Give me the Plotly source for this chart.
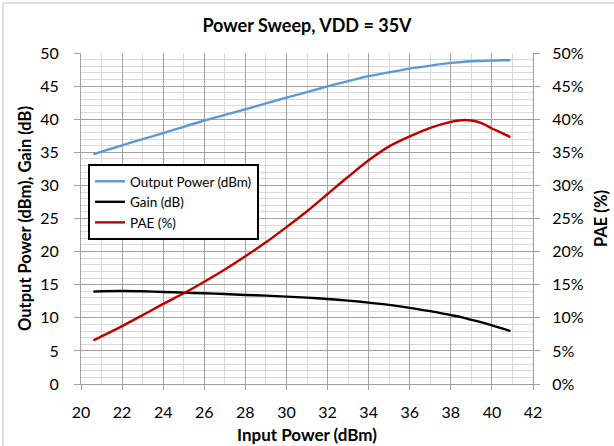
import plotly.graph_objects as go

# Data
input_power = [20.6, 21, 22, 23, 24, 25, 26, 27, 28, 29, 30, 31, 32, 33, 34, 35, 36, 37, 38, 38.5, 39, 39.5, 40, 40.5, 40.9]
output_power = [34.7, 35.1, 36.05, 37.0, 37.9, 38.85, 39.8, 40.65, 41.5, 42.4, 43.25, 44.1, 44.95, 45.75, 46.5, 47.1, 47.65, 48.1, 48.5, 48.65, 48.75, 48.8, 48.85, 48.9, 48.9]
gain = [13.95, 14.0, 14.05, 14.0, 13.9, 13.8, 13.7, 13.6, 13.45, 13.35, 13.2, 13.05, 12.85, 12.6, 12.3, 11.95, 11.5, 11.0, 10.4, 10.1, 9.7, 9.3, 8.85, 8.4, 8.0]
pae = [6.6, 7.2, 8.75, 10.4, 12.1, 13.7, 15.45, 17.3, 19.3, 21.4, 23.7, 26.1, 28.7, 31.3, 33.8, 35.9, 37.4, 38.7, 39.6, 39.85, 39.8, 39.4, 38.6, 37.9, 37.3]

x_ticks = list(range(20, 43, 2))
left_ticks = list(range(0, 51, 5))
right_ticks = list(range(0, 51, 5))
right_labels = [f"{v}%" for v in right_ticks]

FONT = "Lato, 'Open Sans', sans-serif"
MAJOR = "#a0a0a0"
MINOR = "#d9d9d9"

W, H = 614, 446
L, R, T, B = 81, 81, 53, 62
PW, PH = W - L - R, H - T - B

fig = go.Figure()
fig.add_trace(go.Scatter(x=input_power, y=output_power, mode="lines", name="Output Power (dBm)",
                         line=dict(color="#5b9bd5", width=2.4, shape="spline", smoothing=0.8)))
fig.add_trace(go.Scatter(x=input_power, y=gain, mode="lines", name="Gain (dB)",
                         line=dict(color="#000000", width=2.4, shape="spline", smoothing=0.8)))
fig.add_trace(go.Scatter(x=input_power, y=pae, mode="lines", name="PAE (%)", yaxis="y2",
                         line=dict(color="#c00000", width=2.4, shape="spline", smoothing=0.8)))

fig.update_layout(
    width=W, height=H,
    margin=dict(l=L, r=R, t=T, b=B),
    paper_bgcolor="white", plot_bgcolor="white",
    font=dict(family=FONT, color="#000000", size=15),
    title=dict(text="<b>Power Sweep, VDD = 35V</b>", x=0.5, xanchor="center",
               y=1 - 26 / H, yanchor="middle", font=dict(size=18, family=FONT)),
    showlegend=True,
    legend=dict(x=(88 - L) / PW, y=(H - B - 164) / PH, xanchor="left", yanchor="top",
                bgcolor="white", bordercolor="black", borderwidth=2,
                font=dict(size=13.5, family=FONT), tracegroupgap=0, itemwidth=30),
    xaxis=dict(range=[20, 42], tickvals=x_ticks, showgrid=True, gridcolor=MAJOR, gridwidth=1,
               minor=dict(dtick=1, showgrid=True, gridcolor=MINOR, gridwidth=1),
               ticks="outside", ticklen=5, tickcolor=MAJOR, showline=True, linecolor=MAJOR,
               zeroline=False, tickfont=dict(size=16), ticklabelstandoff=9, automargin=False,
               title=dict(text="<b>Input Power (dBm)</b>", font=dict(size=17), standoff=8)),
    yaxis=dict(range=[0, 50], tickvals=left_ticks, showgrid=True, gridcolor=MAJOR, gridwidth=1,
               minor=dict(dtick=1, showgrid=True, gridcolor=MINOR, gridwidth=1),
               ticks="outside", ticklen=6, tickcolor=MAJOR, showline=True, linecolor=MAJOR,
               zeroline=False, tickfont=dict(size=16), ticklabelstandoff=12, automargin=False,
               title=dict(text="<b>Output Power (dBm), Gain (dB)</b>", font=dict(size=16.5), standoff=4)),
    yaxis2=dict(range=[0, 50], tickvals=right_ticks, ticktext=right_labels, overlaying="y", side="right",
                showgrid=False, ticks="outside", ticklen=6, tickcolor=MAJOR, showline=True,
                linecolor=MAJOR, zeroline=False, tickfont=dict(size=16), ticklabelstandoff=9,
                automargin=False,
                title=dict(text="<b>PAE (%)</b>", font=dict(size=16.5), standoff=12)),
    shapes=[dict(type="rect", xref="paper", yref="paper",
                 x0=(3 - L) / PW, x1=(700 - L) / PW,
                 y0=(H - B - 700) / PH, y1=(H - B - 3) / PH,
                 line=dict(color="#bfbfbf", width=1), layer="below")],
)

fig.write_html("out.html", post_script="document.body.style.margin='0px';",
               config={"displayModeBar": False})
